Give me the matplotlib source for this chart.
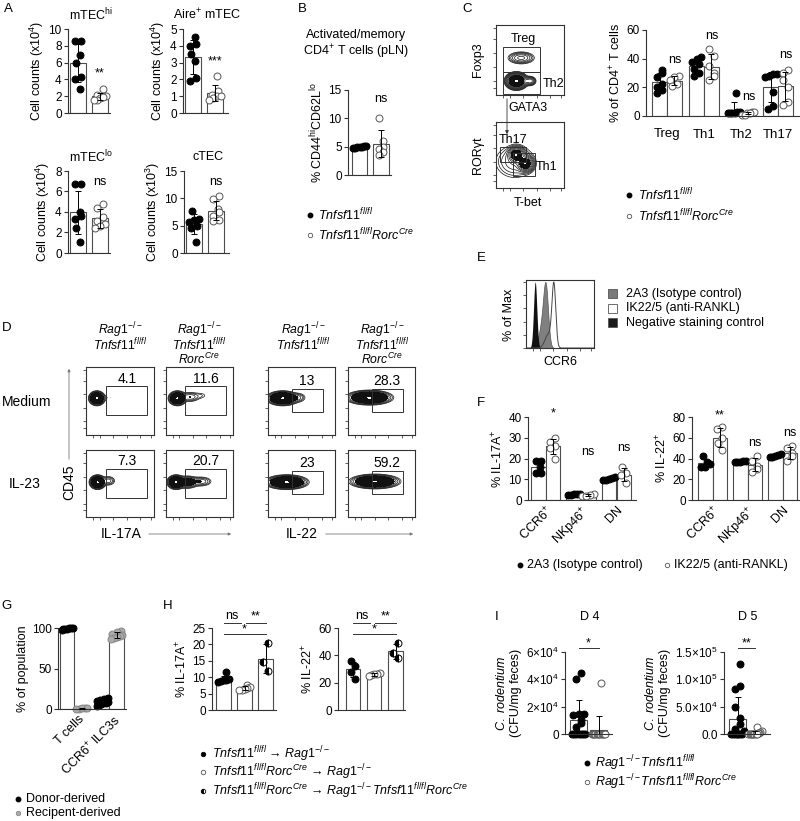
import numpy as np
import matplotlib
matplotlib.use('Agg')
import matplotlib.pyplot as plt
from matplotlib.patches import Rectangle

plt.rcParams.update({
    'font.family': ['Liberation Sans', 'DejaVu Sans'],
    'mathtext.fontset': 'custom',
    'mathtext.rm': 'Liberation Sans',
    'mathtext.it': 'Liberation Sans:italic',
    'mathtext.bf': 'Liberation Sans:bold',
    'mathtext.sf': 'Liberation Sans',
    'axes.linewidth': 0.8,
})

# ---------------- DATA ----------------
# Panel A (cell counts)
A_mtechi_ctrl = [8.6, 8.6, 6.9, 6.0, 4.3, 4.1, 2.9]
A_mtechi_ko = [2.8, 2.2, 2.0, 1.8, 1.6, 1.5, 1.9]
A_aire_ctrl = [4.5, 4.1, 4.0, 3.5, 3.1, 2.1, 1.9]
A_aire_ko = [2.2, 1.3, 1.1, 1.0, 0.9, 0.8, 1.0]
A_mteclo_ctrl = [6.7, 6.7, 4.0, 3.6, 3.3, 2.4, 1.1]
A_mteclo_ko = [4.8, 4.4, 3.5, 3.1, 2.8, 2.6, 2.4]
A_ctec_ctrl = [7.6, 6.3, 6.0, 5.7, 5.0, 4.5, 2.0]
A_ctec_ko = [10.5, 9.8, 8.0, 7.5, 6.8, 6.0, 5.8]
A_sig = ['**', '***', 'ns', 'ns']

# Panel B
B_ctrl = [5.2, 5.0, 5.0, 4.9, 4.8, 4.8, 5.1]
B_ko = [10.0, 6.0, 5.0, 4.5, 4.0, 3.5]

# Panel C
C_cats = ['Treg', 'Th1', 'Th2', 'Th17']
C_ctrl = [[32, 30, 27, 22, 20, 18, 16],
          [41, 40, 38, 36, 33, 30, 28],
          [16, 3, 3, 2, 2, 2, 2],
          [29, 29, 28, 27, 17, 7, 5]]
C_ko = [[28, 27, 25, 22, 21],
        [47, 42, 35, 30, 28, 25],
        [3, 3, 2, 2, 1, 1],
        [32, 30, 25, 20, 10, 8]]
C_sig_y = [39, 56, 13, 42.5]

# Panel D (flow percentages)
D_numbers = [['4.1', '11.6', '13', '28.3'],
             ['7.3', '20.7', '23', '59.2']]
D_rows = ['Medium', 'IL-23']

# Panel F
F_cats = [r'CCR6$^{+}$', r'NKp46$^{+}$', 'DN']
F17_ctrl = [[19, 19, 16, 13, 13], [3.0, 3.0, 2.8, 2.6, 2.5], [11, 10.5, 10, 9.8, 9.5]]
F17_ko = [[30, 28, 26, 25, 20], [3.0, 2.5, 2.0, 2.0], [16, 13, 12, 8]]
F17_sig = [('*', 41.5), ('ns', 23), ('ns', 25)]
F22_ctrl = [[42, 37, 35, 32, 32], [38, 38, 37, 37, 37], [44, 43, 42, 41, 41]]
F22_ko = [[70, 68, 60, 55, 48], [42, 38, 33, 30, 27], [52, 50, 45, 42, 38]]
F22_sig = [('**', 81.5), ('ns', 55), ('ns', 65)]

# Panel G
G_cats = ['T cells', r'CCR6$^{+}$ ILC3s']
G_donor = [[100, 99.5, 99, 98.5, 99, 100, 98], [14, 12, 11, 10, 9, 8, 7, 6, 5, 4]]
G_recip = [[0.5, 1.0, 0.3, 0.8, 1.2], [96, 95, 93, 91, 90, 89, 88, 86]]

# Panel H
H17 = [[11.5, 9.5, 9.2, 9.0, 8.8, 8.5], [7.5, 7.0, 6.8, 6.5, 6.2, 6.0], [20.5, 14.5, 12.0]]
H22 = [[36, 32, 28, 23], [27, 26.5, 26, 25.5, 25], [49, 42, 38]]

# Panel I
I_d4_ctrl = [45000, 40000, 15000, 15000, 14000, 10000, 8000, 5000, 0, 0, 0, 0, 0, 0, 0]
I_d4_ko = [37000, 0, 0, 0, 0, 0, 0, 0, 0, 0, 0, 0, 0]
I_d5_ctrl = [128000, 88000, 83000, 50000, 30000, 18000, 10000, 5000, 0, 0, 0, 0, 0, 0, 0]
I_d5_ko = [12000, 5000, 3000, 2000, 1000, 0, 0, 0, 0, 0, 0, 0, 0]

# Flow / histogram model populations (cx, cy, sx, sy, weight) in relative plot units
D_pops = {
    (0, 0): [(0.16, 0.54, 0.045, 0.04, 1.0), (0.36, 0.55, 0.08, 0.03, 0.02)],
    (0, 1): [(0.17, 0.54, 0.05, 0.04, 1.0), (0.36, 0.56, 0.07, 0.035, 0.12), (0.52, 0.58, 0.06, 0.03, 0.03)],
    (0, 2): [(0.22, 0.54, 0.09, 0.04, 1.0), (0.45, 0.55, 0.06, 0.035, 0.08)],
    (0, 3): [(0.32, 0.55, 0.13, 0.04, 1.0)],
    (1, 0): [(0.17, 0.52, 0.045, 0.04, 1.0), (0.33, 0.54, 0.05, 0.035, 0.1)],
    (1, 1): [(0.15, 0.52, 0.05, 0.04, 1.0), (0.32, 0.52, 0.07, 0.04, 0.3), (0.52, 0.53, 0.08, 0.035, 0.12)],
    (1, 2): [(0.28, 0.52, 0.12, 0.04, 1.0)],
    (1, 3): [(0.40, 0.53, 0.14, 0.04, 1.0)],
}
C_top_pops = [(0.30, 0.20, 0.06, 0.045, 1.0), (0.37, 0.53, 0.09, 0.04, 0.1), (0.50, 0.20, 0.04, 0.03, 0.12)]
C_bot_pops = [(0.30, 0.50, 0.05, 0.05, 1.0), (0.43, 0.37, 0.05, 0.05, 1.0), (0.28, 0.40, 0.14, 0.12, 0.08)]
E_hist = {
    'gray': [(0.29, 0.035, 1.0), (0.23, 0.045, 0.35)],
    'black': [(0.135, 0.024, 1.0)],
    'white': [(0.41, 0.028, 1.0), (0.33, 0.05, 0.22)],
}

# ---------------- FIGURE ----------------
W, H = 800, 821
fig = plt.figure(figsize=(8, 8.21), dpi=100)
fig.patch.set_facecolor('white')

FS = 9
TS = 8.5
LS = 9


def px_axes(x0, y0, x1, y1, z=1):
    return fig.add_axes([x0 / W, 1 - y1 / H, (x1 - x0) / W, (y1 - y0) / H], zorder=z)


ov = fig.add_axes([0, 0, 1, 1], zorder=10)
ov.set_xlim(0, W)
ov.set_ylim(H, 0)
ov.axis('off')


def T(x, y, s, size=FS, **kw):
    kw.setdefault('ha', 'center')
    kw.setdefault('va', 'center')
    ov.text(x, y, s, fontsize=size, **kw)


STY = {
    'filled': dict(marker='o', mfc='black', mec='black'),
    'open': dict(marker='o', mfc='white', mec='#555555'),
    'half': dict(marker='o', fillstyle='left', mfc='black', mfcalt='white', mec='black'),
    'gray': dict(marker='o', mfc='#aaaaaa', mec='#888888'),
}


def nomark(st):
    return {k: v for k, v in STY[st].items() if k != 'marker'}


def swarm(v, yr, bw):
    n = len(v)
    order = np.argsort(v, kind='stable')
    offs = np.zeros(n)
    thr = 0.06 * yr
    clusters, cur = [], [order[0]]
    for i in order[1:]:
        if v[i] - v[cur[0]] < thr:
            cur.append(i)
        else:
            clusters.append(cur)
            cur = [i]
    clusters.append(cur)
    sign = 1
    for c in clusters:
        k = len(c)
        if k == 1:
            offs[c[0]] = sign * 0.15 * bw
            sign = -sign
        else:
            s = min(0.4 * bw, 0.16 * bw * (k - 1))
            offs[c] = np.linspace(-s, s, k)
    return offs


def make_ax(rect, off_px, period_px):
    x0, y0, x1, y1 = rect
    ax = px_axes(x0, y0, x1, y1)
    ax.set_xlim(-off_px / period_px, (x1 - x0 - off_px) / period_px)
    return ax


def style_ax(ax, ylim, yticks, ylabels=None, ylabel=None, labelpad=2):
    ax.set_ylim(*ylim)
    ax.set_yticks(yticks)
    if ylabels is not None:
        ax.set_yticklabels(ylabels)
    for s in ['top', 'right']:
        ax.spines[s].set_visible(False)
    for s in ['left', 'bottom']:
        ax.spines[s].set_color('#333333')
    ax.tick_params(axis='y', direction='out', length=3, width=0.8, labelsize=TS, pad=1.5, color='#333333')
    ax.tick_params(axis='x', length=0, labelsize=FS)
    ax.set_xticks([])
    ax.patch.set_visible(False)
    if ylabel:
        ax.set_ylabel(ylabel, fontsize=FS, labelpad=labelpad)


def bars(ax, x, vals, bw, style, yr, ms=5):
    v = np.asarray(vals, float)
    m = v.mean()
    sd = v.std(ddof=1)
    ax.bar(x, m, bw, color='white', edgecolor='#4d4d4d', linewidth=0.8, zorder=1)
    offs = swarm(v, yr, bw)
    ax.plot(x + offs, v, linestyle='none', ms=ms, mew=0.7, zorder=2, clip_on=False, **STY[style])
    ax.errorbar(x, m, yerr=sd, fmt='none', ecolor='black', elinewidth=0.7, capsize=2, capthick=0.7, zorder=3)
    return m, sd


# ---------------- Panel A ----------------
T(8, 9, 'A', size=9.5)
A_specs = [
    ((68, 29, 110, 113), r'mTEC$^{\mathrm{hi}}$', A_mtechi_ctrl, A_mtechi_ko, (0, 10), [0, 2, 4, 6, 8, 10], r'Cell counts (x10$^{4}$)', 4.7),
    ((183, 29, 228, 113), r'Aire$^{+}$ mTEC', A_aire_ctrl, A_aire_ko, (0, 5), [0, 1, 2, 3, 4, 5], r'Cell counts (x10$^{4}$)', 3.05),
    ((68, 171, 110, 253), r'mTEC$^{\mathrm{lo}}$', A_mteclo_ctrl, A_mteclo_ko, (0, 8), [0, 2, 4, 6, 8], r'Cell counts (x10$^{4}$)', 6.9),
    ((184, 171, 229, 253), 'cTEC', A_ctec_ctrl, A_ctec_ko, (0, 15), [0, 5, 10, 15], r'Cell counts (x10$^{3}$)', 13),
]
for (rect, title, ctrl, ko, ylim, yt, yl, sy), sig in zip(A_specs, A_sig):
    ax = make_ax(rect, 10, 22)
    bw = 0.72
    bars(ax, 0, ctrl, bw, 'filled', ylim[1])
    bars(ax, 1, ko, bw, 'open', ylim[1])
    style_ax(ax, ylim, yt, ylabel=yl)
    ax.text(1, sy, sig, ha='center', va='center', fontsize=FS)
    T((rect[0] + rect[2]) / 2 + 2, rect[1] - 14, title, size=FS)

# ---------------- Panel B ----------------
T(302, 9, 'B', size=9.5)
T(356, 35, 'Activated/memory')
T(356, 52, r'CD4$^{+}$ T cells (pLN)')
ax = make_ax((348, 90, 391, 175), 11.5, 21.5)
bars(ax, 0, B_ctrl, 0.7, 'filled', 15)
bars(ax, 1, B_ko, 0.7, 'open', 15)
style_ax(ax, (0, 15), [0, 5, 10, 15], ylabel=r'% CD44$^{\mathrm{hi}}$CD62L$^{\mathrm{lo}}$')
ax.text(1, 13.5, 'ns', ha='center', va='center', fontsize=FS)
ov.plot([310], [215], 'o', ms=3.2, **nomark('filled'))
ov.plot([310], [235], 'o', ms=3.2, mew=0.6, **nomark('open'))
T(318, 215, r'$\mathit{Tnfsf11}^{\mathit{fl/fl}}$', size=LS, ha='left')
T(318, 235, r'$\mathit{Tnfsf11}^{\mathit{fl/fl}}\mathit{Rorc}^{\mathit{Cre}}$', size=LS, ha='left')


# ---------------- Flow helpers ----------------
def flow(rect, comps, gates=(), lo=0.02, fill_frac=0.12, n_lines=5, grid=240):
    ax = px_axes(*rect)
    g = np.linspace(0, 1, grid)
    X, Y = np.meshgrid(g, g)
    Z = np.zeros_like(X)
    for cx, cy, sx, sy, w in comps:
        Z += w * np.exp(-0.5 * (((X - cx) / sx) ** 2 + ((Y - cy) / sy) ** 2))
    zmax = Z.max()
    ax.contour(X, Y, Z, levels=zmax * np.geomspace(lo, fill_frac, n_lines), colors='#111111', linewidths=0.5)
    ax.contourf(X, Y, Z, levels=[zmax * fill_frac, zmax * 0.985], colors=['#111111'])
    ax.contourf(X, Y, Z, levels=[zmax * 0.985, zmax * 1.01], colors=['white'])
    for (x0, y0, x1, y1) in gates:
        ax.add_patch(Rectangle((x0, y0), x1 - x0, y1 - y0, fill=False, ec='#333333', lw=0.7, zorder=5))
    ax.set_xlim(0, 1)
    ax.set_ylim(0, 1)
    ax.set_xticks([0.1, 0.2, 0.4, 0.6, 0.8, 0.95])
    ax.set_yticks([0.1, 0.2, 0.4, 0.6, 0.8, 0.95])
    ax.tick_params(length=2, width=0.6, labelbottom=False, labelleft=False, color='#444444')
    for s in ax.spines.values():
        s.set_color('#333333')
        s.set_linewidth(0.8)
    return ax


# ---------------- Panel C ----------------
T(467, 9, 'C', size=9.5)
axf = flow((496, 25, 564, 95), C_top_pops, gates=[(0.11, 0.33, 0.64, 0.69), (0.11, 0.01, 0.64, 0.33)],
           lo=0.01, fill_frac=0.2, n_lines=8)
T(523, 39, 'Treg')
T(554, 84, 'Th2')
T(478, 60, 'Foxp3', rotation=90)
T(528, 108, 'GATA3')
axf = flow((496, 122, 564, 188), C_bot_pops, gates=[(0.06, 0.40, 0.44, 0.625), (0.25, 0.185, 0.57, 0.535)],
           lo=0.01, fill_frac=0.35, n_lines=8)
T(513, 140, 'Th17')
T(547, 167, 'Th1')
T(478, 155, 'RORγt', rotation=90)
T(528, 203, 'T-bet')
ov.annotate('', xy=(507, 137), xytext=(507, 96),
            arrowprops=dict(arrowstyle='-|>', color='#333333', lw=0.6, mutation_scale=5))

ax = make_ax((646, 30, 800, 116), 21, 37)
bw = 0.4
for k in range(4):
    bars(ax, k - 0.2, C_ctrl[k], bw, 'filled', 60)
    bars(ax, k + 0.2, C_ko[k], bw, 'open', 60)
    ax.text(k + 0.2, C_sig_y[k], 'ns', ha='center', va='center', fontsize=FS)
style_ax(ax, (0, 60), [0, 20, 40, 60], ylabel=r'% of CD4$^{+}$ T cells')
ax.set_xticks(range(4))
ax.set_xticklabels(C_cats, fontsize=FS + 0.5)
ax.tick_params(axis='x', pad=9)
ov.plot([629], [195], 'o', ms=3.2, **nomark('filled'))
ov.plot([629], [216], 'o', ms=3.2, mew=0.6, **nomark('open'))
T(638, 195, r'$\mathit{Tnfsf11}^{\mathit{fl/fl}}$', size=LS, ha='left')
T(638, 216, r'$\mathit{Tnfsf11}^{\mathit{fl/fl}}\mathit{Rorc}^{\mathit{Cre}}$', size=LS, ha='left')

# ---------------- Panel D ----------------
T(7, 328, 'D', size=9.5)
RAG = r'$\mathit{Rag1}^{-/-}$'
TNF = r'$\mathit{Tnfsf11}^{\mathit{fl/fl}}$'
ROR = r'$\mathit{Rorc}^{\mathit{Cre}}$'
col_x = [(86, 154), (166, 233), (268, 335), (348, 415)]
row_y = [(367, 435), (450, 517)]
head_x = [120, 199, 303, 382]
for c, hx in enumerate(head_x):
    lines = [RAG, TNF] + ([ROR] if c % 2 == 1 else [])
    T(hx, 320, '\n'.join(lines), size=8.8, va='top', linespacing=0.82)
for r in range(2):
    for c in range(4):
        x0, x1 = col_x[c]
        y0, y1 = row_y[r]
        if c < 2:
            gate = (0.29, 0.29, 0.9, 0.72)
            numx, numy = 0.6, 0.83
        else:
            gate = (0.36, 0.34, 0.82, 0.68)
            numx, numy = 0.58, 0.8
        axf = flow((x0, y0, x1, y1), D_pops[(r, c)], gates=[gate])
        axf.text(numx, numy, D_numbers[r][c], ha='center', va='center', fontsize=10)
T(27, 402, D_rows[0], size=10, ha='center')
T(25, 484, D_rows[1], size=10, ha='center')
T(69, 482, 'CD45', size=10, rotation=90)
T(121, 534, 'IL-17A', size=10)
T(302, 534, 'IL-22', size=10)
arr = dict(arrowstyle='-|>', color='#777777', lw=0.6, mutation_scale=4)
ov.annotate('', xy=(69, 366), xytext=(69, 462), arrowprops=arr)
ov.annotate('', xy=(234, 534), xytext=(146, 534), arrowprops=arr)
ov.annotate('', xy=(416, 534), xytext=(323, 534), arrowprops=arr)

# ---------------- Panel E ----------------
T(481, 258, 'E', size=9.5)
axe = px_axes(526, 280, 594, 348)
xg = np.linspace(0, 1, 400)


def hcurve(comps):
    y = np.zeros_like(xg)
    for c, s, w in comps:
        y += w * np.exp(-0.5 * ((xg - c) / s) ** 2)
    return y / y.max()


axe.fill_between(xg, hcurve(E_hist['gray']), color='#808080', ec='#555555', lw=0.5)
axe.fill_between(xg, hcurve(E_hist['black']), color='#111111', lw=0)
axe.plot(xg, hcurve(E_hist['white']), color='#444444', lw=0.7)
axe.set_xlim(0, 1)
axe.set_ylim(0, 1.03)
axe.set_xticks([0.1, 0.2, 0.4, 0.6, 0.8, 0.95])
axe.set_yticks([0, 0.2, 0.4, 0.6, 0.8, 1.0])
axe.tick_params(length=2, width=0.6, labelbottom=False, labelleft=False, color='#444444')
for s in axe.spines.values():
    s.set_color('#333333')
    s.set_linewidth(0.8)
T(509, 315, '% of Max', rotation=90)
T(560, 362, 'CCR6')
leg_e = [('#7a7a7a', '2A3 (Isotype control)'), ('white', 'IK22/5 (anti-RANKL)'), ('#1a1a1a', 'Negative staining control')]
for i, (col, lab) in enumerate(leg_e):
    yy = 294 + i * 14.5
    ov.add_patch(Rectangle((608, yy - 4.5), 9, 9, fc=col, ec='#555555', lw=0.6))
    T(626, yy, lab, size=LS, ha='left')

# ---------------- Panel F ----------------
T(481, 403, 'F', size=9.5)
for rect, off, per, ctrl, ko, sig, ylim, yt, yl in [
        ((528, 417, 636, 500), 17.5, 35.5, F17_ctrl, F17_ko, F17_sig, (0, 40), [0, 10, 20, 30, 40], r'% IL-17A$^{+}$'),
        ((692, 417, 800, 500), 20.5, 35, F22_ctrl, F22_ko, F22_sig, (0, 80), [0, 20, 40, 60, 80], r'% IL-22$^{+}$')]:
    ax = make_ax(rect, off, per)
    bw = 0.41
    for k in range(3):
        bars(ax, k - bw / 2, ctrl[k], bw, 'filled', ylim[1])
        bars(ax, k + bw / 2, ko[k], bw, 'open', ylim[1])
        ax.text(k + bw / 2, sig[k][1], sig[k][0], ha='center', va='center', fontsize=FS, clip_on=False)
    style_ax(ax, ylim, yt, ylabel=yl)
    ax.set_xticks(range(3))
    ax.set_xticklabels(F_cats, rotation=45, ha='right', rotation_mode='anchor', fontsize=FS)
    ax.tick_params(axis='x', pad=3)
ov.plot([520], [565], 'o', ms=3.2, **nomark('filled'))
T(527, 565, '2A3 (Isotype control)', size=LS, ha='left')
ov.plot([667], [565], 'o', ms=3.2, mew=0.6, **nomark('open'))
T(674, 565, 'IK22/5 (anti-RANKL)', size=LS, ha='left')

# ---------------- Panel G ----------------
T(7, 606, 'G', size=9.5)
ax = make_ax((58, 628, 126, 709), 16.5, 35)
bw = 0.41
for k in range(2):
    bars(ax, k - bw / 2, G_donor[k], bw, 'filled', 100)
    bars(ax, k + bw / 2, G_recip[k], bw, 'gray', 100)
style_ax(ax, (0, 100), [0, 50, 100], ylabel='% of population')
ax.set_xticks([0.1, 1.1])
ax.set_xticklabels(G_cats, rotation=45, ha='right', rotation_mode='anchor', fontsize=FS)
ax.tick_params(axis='x', pad=3)
ov.plot([18], [799], 'o', ms=3.2, **nomark('filled'))
T(26, 799, 'Donor-derived', size=LS, ha='left')
ov.plot([18], [813], 'o', ms=3.2, mew=0.6, **nomark('gray'))
T(26, 813, 'Recipent-derived', size=LS, ha='left')

# ---------------- Panel H ----------------
T(168, 606, 'H', size=9.5)
h_styles = ['filled', 'open', 'half']


def sigline(ax, x0, x1, y, txt, ty):
    ax.plot([x0, x1], [y, y], color='#333333', lw=0.7, clip_on=False)
    ax.text((x0 + x1) / 2, ty, txt, ha='center', va='center', fontsize=FS, clip_on=False)


for rect, off, per, data, ylim, yt, yl, ly in [
        ((212, 628, 276, 710), 11.5, 21, H17, (0, 25), [0, 5, 10, 15, 20, 25], r'% IL-17A$^{+}$', (26.6, 28.6, 23.3, 24.7)),
        ((338, 628, 405, 710), 15, 21.25, H22, (0, 60), [0, 20, 40, 60], r'% IL-22$^{+}$', (63.9, 68.5, 55.9, 59.0))]:
    ax = make_ax(rect, off, per)
    for k in range(3):
        bars(ax, k, data[k], 0.67, h_styles[k], ylim[1])
    style_ax(ax, ylim, yt, ylabel=yl)
    sigline(ax, 0, 0.82, ly[0], 'ns', ly[1])
    sigline(ax, 1.05, 2, ly[0], '**', ly[1])
    sigline(ax, 0, 2, ly[2], '*', ly[3])
h_leg = [r'$\mathit{Tnfsf11}^{\mathit{fl/fl}}$ → $\mathit{Rag1}^{-/-}$',
         r'$\mathit{Tnfsf11}^{\mathit{fl/fl}}\mathit{Rorc}^{\mathit{Cre}}$ → $\mathit{Rag1}^{-/-}$',
         r'$\mathit{Tnfsf11}^{\mathit{fl/fl}}\mathit{Rorc}^{\mathit{Cre}}$ → $\mathit{Rag1}^{-/-}\mathit{Tnfsf11}^{\mathit{fl/fl}}\mathit{Rorc}^{\mathit{Cre}}$']
for i, (lab, st) in enumerate(zip(h_leg, h_styles)):
    yy = 754 + i * 18.5
    ov.plot([203], [yy], 'o', ms=3.2, mew=0.6, **nomark(st))
    T(212, yy, lab, size=LS, ha='left')

# ---------------- Panel I ----------------
T(497, 617, 'I', size=9.5)
T(590, 617, 'D 4')
T(748, 617, 'D 5')
ylab_i = r'$\mathit{C.\ rodentium}$' + '\n(CFU/mg feces)'
for rect, off, per, bw, ctrl, ko, ylim, yt, ytl, sig, sy in [
        ((565, 652, 612, 734), 13.5, 20, 0.85, I_d4_ctrl, I_d4_ko, (0, 60000), [0, 20000, 40000, 60000],
         ['0', r'2×10$^{4}$', r'4×10$^{4}$', r'6×10$^{4}$'], '*', (62900, 66500)),
        ((724, 652, 770, 734), 13.5, 17.5, 0.95, I_d5_ctrl, I_d5_ko, (0, 150000), [0, 50000, 100000, 150000],
         ['0.0', r'5.0×10$^{4}$', r'1.0×10$^{5}$', r'1.5×10$^{5}$'], '**', (157000, 166000))]:
    ax = make_ax(rect, off, per)
    bars(ax, 0, ctrl, bw, 'filled', ylim[1])
    bars(ax, 1, ko, bw, 'open', ylim[1])
    style_ax(ax, ylim, yt, ylabels=ytl, ylabel=ylab_i, labelpad=3)
    sigline(ax, 0, 1, sy[0], sig, sy[1])
ov.plot([587], [763], 'o', ms=3.2, **nomark('filled'))
T(595, 763, r'$\mathit{Rag1}^{-/-}\mathit{Tnfsf11}^{\mathit{fl/fl}}$', size=LS, ha='left')
ov.plot([587], [782], 'o', ms=3.2, mew=0.6, **nomark('open'))
T(595, 782, r'$\mathit{Rag1}^{-/-}\mathit{Tnfsf11}^{\mathit{fl/fl}}\mathit{Rorc}^{\mathit{Cre}}$', size=LS, ha='left')

fig.savefig('out.png', dpi=100, facecolor='white')
